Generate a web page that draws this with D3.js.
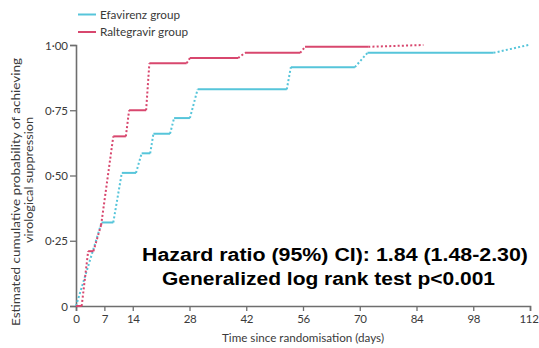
<!DOCTYPE html>
<html><head><meta charset="utf-8">
<script src="https://cdn.jsdelivr.net/npm/d3@7"></script>
<style>body{margin:0;background:#fff}svg{display:block}</style>
</head><body>
<script>
// Data: step plateaus (start day, end day, cumulative probability)
const efavirenzStart = [0, 6.3, 11.3, 16.2, 19.1, 24.2, 30.0, 53.0, 71.9, 111.6];
const efavirenzEnd   = [0, 9.2, 14.8, 18.3, 23.2, 28.1, 52.0, 68.8, 103.0, 111.6];
const efavirenzValue = [0, 0.32, 0.51, 0.585, 0.66, 0.72, 0.83, 0.915, 0.97, 1.0];

const raltegravirStart = [0, 3.0, 6.2, 9.2, 13.1, 18.1, 28.1, 41.7, 56.5, 85.7];
const raltegravirEnd   = [1.4, 4.3, 6.2, 12.3, 17.3, 27.3, 40.0, 55.3, 72.1, 85.7];
const raltegravirValue = [0, 0.21, 0.31, 0.65, 0.75, 0.93, 0.95, 0.97, 0.993, 1.0];

const xTicks = [0, 7, 14, 28, 42, 56, 70, 84, 98, 112];
const yTicks = [0, 0.25, 0.5, 0.75, 1.0];
const yTickLabels = ["0", "0·25", "0·50", "0·75", "1·00"];
const seriesNames = ["Efavirenz group", "Raltegravir group"];
const annotation = ["Hazard ratio (95%) CI): 1.84 (1.48-2.30)", "Generalized log rank test p<0.001"];

const W = 539, H = 348;
const cEfa = "#56c5da", cRal = "#d8476e", axisC = "#6e6e6e", textC = "#3a3a3a";
const font = "Lato, 'Open Sans', sans-serif";

const svg = d3.select("body").append("svg").attr("width", W).attr("height", H);
const x = d3.scaleLinear().domain([0, 112]).range([76, 530]);
const y = d3.scaleLinear().domain([0, 1]).range([306, 45]);

// Axes
const xAxis = d3.axisBottom(x).tickValues(xTicks).tickSize(5).tickPadding(4).tickFormat(d3.format("d"));
const gx = svg.append("g").attr("transform", `translate(0,${y(0)})`).call(xAxis);
const yAxis = d3.axisLeft(y).tickValues(yTicks).tickSize(6).tickPadding(2).tickFormat((d, i) => yTickLabels[i]);
const gy = svg.append("g").attr("transform", `translate(${x(0)},0)`).call(yAxis);
[gx, gy].forEach(g => {
  g.select(".domain").attr("stroke", axisC).attr("stroke-width", 1.6);
  g.selectAll(".tick line").attr("stroke", axisC).attr("stroke-width", 1.3);
  g.selectAll(".tick text").attr("fill", textC).attr("font-family", font).attr("font-size", 11.5);
});
gy.selectAll(".tick text").attr("dy", "0.35em");
gx.selectAll(".tick text").attr("letter-spacing", -0.4).filter(d => d === 112).attr("dx", -1.5);

// Axis titles
svg.append("text").attr("x", x(56)).attr("y", 342).attr("text-anchor", "middle")
  .attr("font-family", font).attr("font-size", 11.5).attr("fill", textC)
  .attr("textLength", 162).attr("lengthAdjust", "spacingAndGlyphs")
  .text("Time since randomisation (days)");
svg.append("text").attr("transform", "translate(20,192) rotate(-90)").attr("text-anchor", "middle")
  .attr("font-family", font).attr("font-size", 11).attr("fill", textC)
  .attr("textLength", 268).attr("lengthAdjust", "spacingAndGlyphs")
  .text("Estimated cumulative probability of achieving");
svg.append("text").attr("transform", "translate(32.5,180) rotate(-90)").attr("text-anchor", "middle")
  .attr("font-family", font).attr("font-size", 11).attr("fill", textC)
  .attr("textLength", 126).attr("lengthAdjust", "spacingAndGlyphs")
  .text("virological suppression");

// Curves
function drawCurve(starts, ends, vals, color) {
  const g = svg.append("g");
  const plateaus = starts.map((s, i) => ({s, e: ends[i], v: vals[i]})).filter(d => d.e > d.s);
  g.selectAll("line.plateau").data(plateaus).join("line").attr("class", "plateau")
    .attr("x1", d => x(d.s)).attr("x2", d => x(d.e))
    .attr("y1", d => y(d.v)).attr("y2", d => y(d.v))
    .attr("stroke", color).attr("stroke-width", 2);
  const conns = starts.slice(1).map((s, i) => ({x1: ends[i], y1: vals[i], x2: s, y2: vals[i + 1]}));
  g.selectAll("line.conn").data(conns).join("line").attr("class", "conn")
    .attr("x1", d => x(d.x1)).attr("x2", d => x(d.x2))
    .attr("y1", d => y(d.y1)).attr("y2", d => y(d.y2))
    .attr("stroke", color).attr("stroke-width", 2).attr("stroke-dasharray", "2,2.2");
}
drawCurve(efavirenzStart, efavirenzEnd, efavirenzValue, cEfa);
drawCurve(raltegravirStart, raltegravirEnd, raltegravirValue, cRal);

// Legend
const leg = svg.append("g");
const legLen = [80, 88];
[cEfa, cRal].forEach((c, i) => {
  const yy = 14.5 + i * 17.5;
  leg.append("line").attr("x1", 78).attr("x2", 96).attr("y1", yy).attr("y2", yy)
    .attr("stroke", c).attr("stroke-width", 2);
  leg.append("text").attr("x", 100).attr("y", yy).attr("dy", "0.35em")
    .attr("font-family", font).attr("font-size", 12).attr("fill", textC)
    .attr("textLength", legLen[i]).attr("lengthAdjust", "spacingAndGlyphs")
    .text(seriesNames[i]);
});

// Annotation
svg.append("text").attr("x", 142).attr("y", 260.5).attr("font-family", "Arial, 'Liberation Sans', sans-serif")
  .attr("font-weight", "bold").attr("font-size", 18).attr("fill", "#000")
  .attr("textLength", 386).attr("lengthAdjust", "spacingAndGlyphs").text(annotation[0]);
svg.append("text").attr("x", 162).attr("y", 285).attr("font-family", "Arial, 'Liberation Sans', sans-serif")
  .attr("font-weight", "bold").attr("font-size", 18).attr("fill", "#000")
  .attr("textLength", 333).attr("lengthAdjust", "spacingAndGlyphs").text(annotation[1]);
</script>
</body></html>
